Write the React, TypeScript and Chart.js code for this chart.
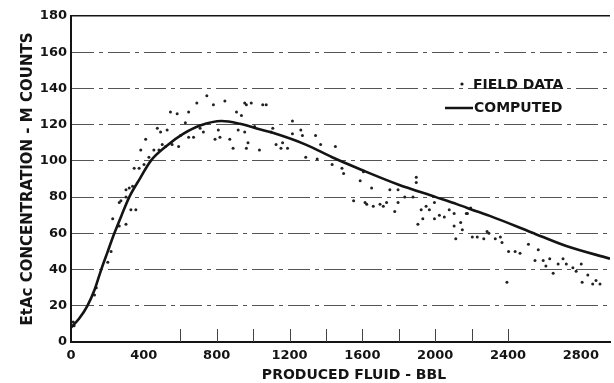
import React, { useEffect, useRef } from "react";
import { Chart, registerables } from "chart.js";

Chart.register(...registerables);

// ---- Data ----
const CURVE_X = [0, 45, 90, 130, 166, 200, 238, 280, 320, 380, 438, 528, 618, 709, 827, 927, 1035, 1108, 1289, 1434, 1597, 1796, 2004, 2122, 2231, 2303, 2530, 2720, 2960];
const CURVE_Y = [8, 13, 20, 29, 40, 49.5, 60, 70.5, 80, 90.5, 100, 108.5, 115, 119.5, 122, 120.5, 117.5, 115.5, 109, 102, 95, 87, 80, 76, 72, 69.5, 60.5, 53, 46];

const FIELD_X = [12, 17, 129, 139, 202, 220, 229, 265, 265, 274, 302, 302, 302, 320, 329, 338, 347, 356, 374, 383, 401, 410, 428, 455, 474, 483, 492, 501, 519, 528, 546, 555, 583, 591, 601, 628, 646, 646, 673, 691, 709, 727, 746, 782, 791, 809, 818, 845, 872, 890, 909, 918, 936, 954, 954, 963, 963, 972, 990, 1008, 1035, 1053, 1072, 1099, 1108, 1126, 1153, 1162, 1189, 1216, 1216, 1262, 1271, 1289, 1343, 1352, 1371, 1434, 1452, 1488, 1497, 1552, 1588, 1606, 1615, 1624, 1651, 1660, 1697, 1715, 1733, 1751, 1778, 1796, 1796, 1833, 1878, 1896, 1896, 1905, 1923, 1932, 1950, 1968, 1996, 1996, 2023, 2050, 2077, 2104, 2104, 2113, 2140, 2149, 2171, 2177, 2195, 2204, 2231, 2267, 2285, 2295, 2330, 2358, 2367, 2394, 2403, 2439, 2466, 2512, 2548, 2566, 2593, 2608, 2629, 2648, 2675, 2702, 2720, 2756, 2774, 2802, 2807, 2838, 2865, 2883, 2905];
const FIELD_Y = [11, 9, 26, 30, 44, 50, 68, 64, 77, 78, 65, 80, 84, 85, 73, 86, 96, 73, 96, 106, 98, 112, 102, 106, 118, 106, 116, 109, 108, 117, 127, 109, 126, 108, 114, 121, 127, 113, 113, 132, 118, 116, 136, 131, 112, 117, 113, 133, 112, 107, 127, 117, 125, 132, 116, 131, 107, 110, 132, 119, 106, 131, 131, 116, 118, 109, 107, 110, 107, 122, 115, 117, 114, 102, 114, 101, 109, 98, 108, 96, 93, 78, 89, 94, 77, 76, 85, 75, 76, 75, 77, 84, 72, 77, 84, 80, 80, 91, 88, 65, 73, 68, 75, 73, 77, 68, 70, 69, 73, 64, 71, 57, 66, 62, 71, 71, 74, 58, 58, 57, 61, 60, 57, 58, 55, 33, 50, 50, 49, 54, 45, 51, 45, 42, 46, 38, 43, 46, 43, 41, 39, 43, 33, 37, 32, 34, 32];

const X_TICKS = [0, 400, 800, 1200, 1600, 2000, 2400, 2800];
const X_MARKS = [600, 800, 1000, 1200, 1400, 1600, 1800, 2000, 2200, 2400];
const X_MIN = 0;
const X_MAX = 2960;
const Y_MIN = 0;
const Y_MAX = 180;
const Y_STEP = 20;

const X_TITLE = "PRODUCED FLUID - BBL";
const Y_TITLE = "EtAc CONCENTRATION - M COUNTS";
const LEGEND_FIELD = "FIELD DATA";
const LEGEND_COMPUTED = "COMPUTED";

const INK = "#141414";
const FONT = '"DejaVu Sans", sans-serif';

const overlayPlugin = {
  id: "overlay",
  afterDraw(chart: any) {
    const { ctx, chartArea, scales } = chart;
    const x = scales.x;
    ctx.save();
    // inward tick marks on the x axis
    ctx.strokeStyle = "#444";
    ctx.lineWidth = 1;
    X_MARKS.forEach((v) => {
      const px = Math.round(x.getPixelForValue(v)) + 0.5;
      ctx.beginPath();
      ctx.moveTo(px, chartArea.bottom);
      ctx.lineTo(px, chartArea.bottom - 13);
      ctx.stroke();
    });
    // x title
    ctx.fillStyle = INK;
    ctx.font = `bold 14px ${FONT}`;
    ctx.textAlign = "center";
    ctx.textBaseline = "middle";
    ctx.fillText(X_TITLE, chartArea.left + 283, 375);
    // legend
    const lx = chartArea.left + 402;
    ctx.textAlign = "left";
    ctx.beginPath();
    ctx.arc(chartArea.left + 391, 84, 1.6, 0, Math.PI * 2);
    ctx.fill();
    ctx.fillText(LEGEND_FIELD, lx, 85);
    ctx.strokeStyle = INK;
    ctx.lineWidth = 2.5;
    ctx.beginPath();
    ctx.moveTo(chartArea.left + 374, 108);
    ctx.lineTo(chartArea.left + 402, 108);
    ctx.stroke();
    ctx.fillText(LEGEND_COMPUTED, lx + 1, 108);
    ctx.restore();
  },
};

export default function App() {
  const ref = useRef<HTMLCanvasElement | null>(null);

  useEffect(() => {
    if (!ref.current) return;
    document.body.style.margin = "0";
    const chart = new Chart(ref.current, {
      type: "scatter",
      data: {
        datasets: [
          {
            label: LEGEND_COMPUTED,
            type: "line",
            data: CURVE_X.map((v, i) => ({ x: v, y: CURVE_Y[i] })),
            borderColor: INK,
            borderWidth: 2.6,
            pointRadius: 0,
            fill: false,
            cubicInterpolationMode: "monotone",
          } as any,
          {
            label: LEGEND_FIELD,
            data: FIELD_X.map((v, i) => ({ x: v, y: FIELD_Y[i] })),
            pointRadius: 1.5,
            pointBackgroundColor: "#222",
            pointBorderWidth: 0,
            showLine: false,
          },
        ],
      },
      options: {
        animation: false,
        responsive: false,
        devicePixelRatio: 1,
        layout: { padding: { top: 16, left: 0, right: 0, bottom: 0 } },
        plugins: {
          legend: { display: false },
          tooltip: { enabled: false },
        },
        scales: {
          x: {
            type: "linear",
            min: X_MIN,
            max: X_MAX,
            afterFit: (s: any) => {
              s.height = 41;
            },
            afterBuildTicks: (s: any) => {
              s.ticks = X_TICKS.map((v) => ({ value: v }));
            },
            ticks: {
              color: INK,
              padding: 6,
              font: { family: FONT, size: 13, weight: "bold" },
              callback: (v: any) => String(v),
            },
            grid: { drawOnChartArea: false, drawTicks: false },
            border: { display: true, color: INK, width: 2 },
          },
          y: {
            type: "linear",
            min: Y_MIN,
            max: Y_MAX,
            afterFit: (s: any) => {
              s.width = 71;
            },
            ticks: {
              stepSize: Y_STEP,
              color: INK,
              padding: 4,
              font: { family: FONT, size: 13, weight: "bold" },
            },
            grid: {
              drawTicks: false,
              color: (c: any) => (c.tick && c.tick.value === Y_MAX ? INK : "#555"),
              lineWidth: (c: any) => (c.tick && c.tick.value === Y_MAX ? 1.6 : 1),
            },
            border: {
              display: true,
              color: INK,
              width: 2,
              dash: (c: any) => (c.tick && (c.tick.value === Y_MAX || c.tick.value === Y_MIN) ? [] : [22, 5, 4, 5]),
            },
            title: {
              display: true,
              text: Y_TITLE,
              color: INK,
              font: { family: FONT, size: 15, weight: "bold" },
              padding: { top: 19, bottom: 0 },
            },
          },
        },
      },
      plugins: [overlayPlugin],
    });
    return () => chart.destroy();
  }, []);

  return (
    <div style={{ position: "absolute", left: 0, top: 0, width: 614, height: 383, background: "#fff" }}>
      <canvas ref={ref} width={614} height={383} style={{ width: 614, height: 383, display: "block" }} />
    </div>
  );
}
